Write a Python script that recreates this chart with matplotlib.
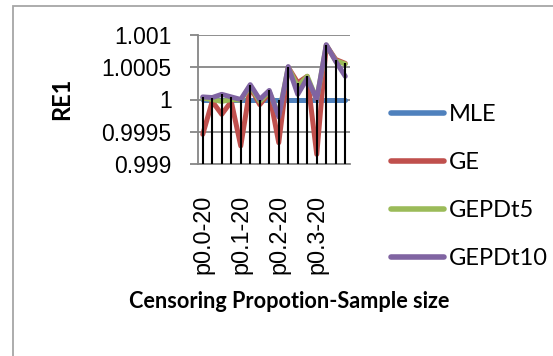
import matplotlib.pyplot as plt
import numpy as np
from matplotlib.patches import Rectangle

# Datos (16 categorias, etiqueta visible cada 4)
group_labels = ["p0.0-20", "p0.1-20", "p0.2-20", "p0.3-20"]
mle = [1.0] * 16
ge = [0.99946, 0.99997, 0.99977, 0.99997, 0.99928, 1.00020, 0.99992, 1.00010,
      0.99933, 1.00050, 1.00026, 1.00036, 0.99915, 1.00084, 1.00062, 1.00056]
gepdt5 = [1.00002, 1.00000, 0.99997, 1.00000, 0.99999, 1.00021, 0.99997, 1.00012,
          0.99976, 1.00050, 1.00020, 1.00036, 1.00000, 1.00084, 1.00060, 1.00055]
gepdt10 = [1.00004, 1.00003, 1.00008, 1.00004, 1.00000, 1.00023, 1.00000, 1.00014,
           0.99973, 1.00051, 1.00008, 1.00033, 1.00000, 1.00085, 1.00059, 1.00036]

W, H = 553, 356
fig = plt.figure(figsize=(W / 100, H / 100), dpi=100)

# marco exterior
fig.patches.append(Rectangle((13 / W, -0.1), 1.2, 1 - 6 / H + 0.1,
                             transform=fig.transFigure, fill=False,
                             edgecolor="#a6a6a6", linewidth=1.3))

ax = fig.add_axes([198 / W, 1 - 164 / H, 152 / W, 129 / H])

x = np.arange(len(ge))
series = [("MLE", mle, "#4F81BD"), ("GE", ge, "#C0504D"),
          ("GEPDt5", gepdt5, "#9BBB59"), ("GEPDt10", gepdt10, "#8064A2")]
for name, vals, col in series:
    ax.plot(x, vals, color=col, linewidth=3.6, label=name,
            solid_capstyle="round", solid_joinstyle="round", zorder=3)

# lineas de caida
top = np.max([mle, ge, gepdt5, gepdt10], axis=0)
ax.vlines(x, 0.999, top, color="black", linewidth=1.5, zorder=4)

ax.set_xlim(-0.5, 15.5)
ax.set_ylim(0.999, 1.001)
ax.set_yticks([0.999, 0.9995, 1.0, 1.0005, 1.001])
ax.set_yticklabels(["0.999", "0.9995", "1", "1.0005", "1.001"],
                   family="Liberation Sans", fontsize=16.5)
ax.set_xticks(x[::4])
ax.set_xticklabels(group_labels, rotation=90, family="Liberation Sans",
                   fontsize=16.8)
ax.tick_params(axis="y", length=6, width=1.3, color="#868686", pad=13)
ax.tick_params(axis="x", length=0, pad=22)
ax.grid(axis="y", color="#868686", linewidth=1.3, zorder=1)
for s in ["top", "right"]:
    ax.spines[s].set_visible(False)
ax.spines["left"].set_color("#868686")
ax.spines["left"].set_linewidth(1.3)
ax.spines["bottom"].set_color("#868686")
ax.spines["bottom"].set_linewidth(1.3)

fig.text(62 / W, 1 - 99 / H, "RE1", rotation=90, ha="center", va="center",
         family="Lato", fontweight="bold", fontsize=17)
fig.text(289 / W, 1 - 301 / H, "Censoring Propotion-Sample size",
         ha="center", va="center", family="Lato", fontweight="bold",
         fontsize=15.6)

leg = fig.legend(loc="upper left", bbox_to_anchor=(391 / W, 1 - 104 / H),
                 frameon=False, prop={"family": "Lato", "size": 17},
                 handlelength=2.25, handletextpad=0.2, labelspacing=1.15,
                 borderpad=0, borderaxespad=0)
for h in leg.get_lines():
    h.set_linewidth(4)
    h.set_solid_capstyle("round")

fig.savefig("out.png", dpi=100)
